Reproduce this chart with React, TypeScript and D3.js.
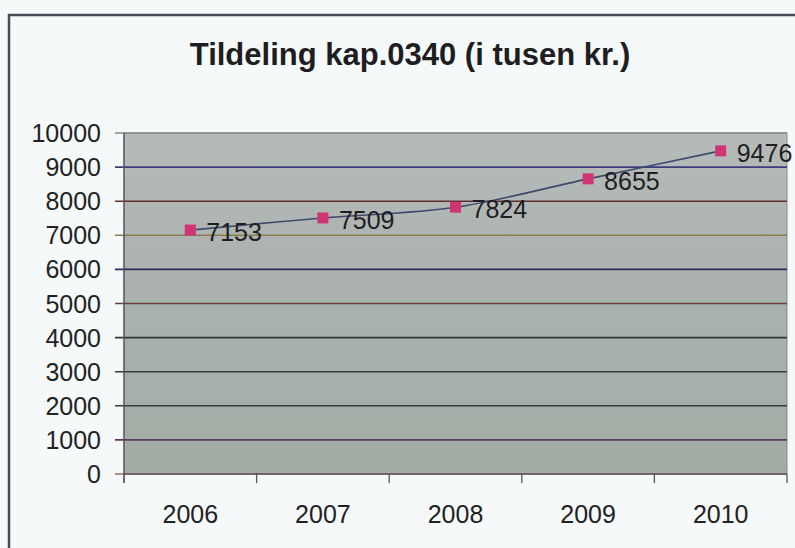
import React from "react";
import * as d3 from "d3";

const title = "Tildeling kap.0340 (i tusen kr.)";
const years = ["2006", "2007", "2008", "2009", "2010"];
const values = [7153, 7509, 7824, 8655, 9476];
const yTicks = [0, 1000, 2000, 3000, 4000, 5000, 6000, 7000, 8000, 9000, 10000];
const gridColors = [
  "#9a6a58", "#5a3a5a", "#3a3a40", "#3a3a3a", "#2f3838", "#6a3c3c",
  "#2c2c58", "#8a7e50", "#5e2e30", "#3c3c78", "#8a8a8a",
];

const W = 795;
const H = 548;
const margin = { left: 124, right: 8, top: 133, bottom: 74 };

export default function App() {
  const x = d3
    .scaleBand<string>()
    .domain(years)
    .range([margin.left, W - margin.right])
    .paddingInner(0)
    .paddingOuter(0);
  const y = d3
    .scaleLinear()
    .domain([0, 10000])
    .range([H - margin.bottom, margin.top]);

  const pts: [number, number][] = values.map((v, i) => [
    (x(years[i]) as number) + x.bandwidth() / 2,
    y(v),
  ]);
  const line = d3.line().curve(d3.curveCatmullRom.alpha(0.5))(pts) || "";

  const font = "'Liberation Sans', Arial, sans-serif";
  const x0 = margin.left;
  const x1 = W - margin.right;
  const y0 = y(0);
  const yTop = y(10000);
  const boundaries = years.map((yr) => x(yr) as number).concat([x1]);

  return (
    <svg
      width={W}
      height={H}
      style={{ position: "absolute", left: 0, top: 0, display: "block" }}
    >
      <defs>
        <linearGradient id="plotBg" x1="0" y1="0" x2="0" y2="1">
          <stop offset="0" stopColor="#b6bbb9" />
          <stop offset="0.5" stopColor="#a9b1ac" />
          <stop offset="1" stopColor="#a2aca5" />
        </linearGradient>
      </defs>
      <rect x={0} y={0} width={W} height={H} fill="#f5f9fa" />
      {/* outer frame */}
      <path
        d={`M9,${H} L9,15 L${W},15`}
        fill="none"
        stroke="#4a4c55"
        strokeWidth={2.5}
      />
      <text
        x={410}
        y={65}
        textAnchor="middle"
        fontFamily={font}
        fontWeight="bold"
        fontSize={31}
        fill="#1e1e22"
      >
        {title}
      </text>

      {/* plot area */}
      <rect
        x={x0}
        y={yTop}
        width={x1 - x0}
        height={y0 - yTop}
        fill="url(#plotBg)"
        stroke="#8a8a8a"
        strokeWidth={1}
      />
      {yTicks.map((t, i) => (
        <g key={t}>
          <line
            x1={x0 - 9}
            x2={x1}
            y1={y(t)}
            y2={y(t)}
            stroke={gridColors[i]}
            strokeWidth={1.6}
          />
          <text
            x={101}
            y={y(t)}
            dy="0.36em"
            textAnchor="end"
            fontFamily={font}
            fontSize={25}
            fill="#222"
          >
            {t}
          </text>
        </g>
      ))}
      {/* axes */}
      <line x1={x0} x2={x0} y1={yTop} y2={y0 + 9} stroke="#555" strokeWidth={1.3} />
      <line x1={x0} x2={x1} y1={y0} y2={y0} stroke="#6a5a6a" strokeWidth={1.6} />
      {boundaries.map((bx, i) => (
        <line key={i} x1={bx} x2={bx} y1={y0} y2={y0 + 9} stroke="#555" strokeWidth={1.3} />
      ))}
      {years.map((yr) => (
        <text
          key={yr}
          x={(x(yr) as number) + x.bandwidth() / 2}
          y={523}
          textAnchor="middle"
          fontFamily={font}
          fontSize={25}
          fill="#222"
        >
          {yr}
        </text>
      ))}

      {/* series */}
      <path d={line} fill="none" stroke="#3e4a6c" strokeWidth={1.6} />
      {pts.map(([px, py], i) => (
        <g key={i}>
          <rect x={px - 5.5} y={py - 5.5} width={11} height={11} fill="#cf3574" />
          <text
            x={px + 16}
            y={py + 2}
            dy="0.36em"
            fontFamily={font}
            fontSize={25}
            fill="#1e1e22"
          >
            {values[i]}
          </text>
        </g>
      ))}
    </svg>
  );
}
